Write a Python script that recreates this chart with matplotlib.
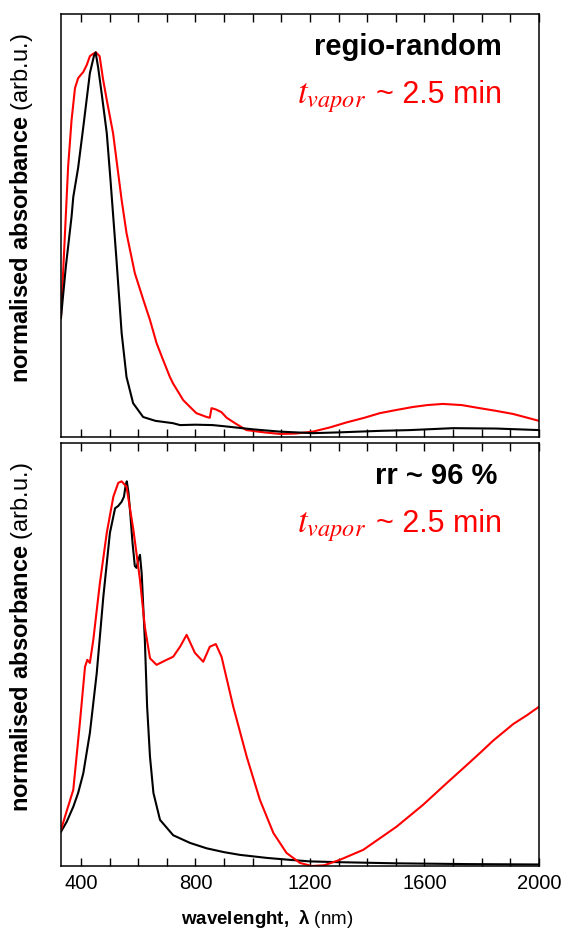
import matplotlib
matplotlib.use("Agg")
import matplotlib.pyplot as plt

plt.rcParams['font.family'] = ['Liberation Sans', 'DejaVu Sans']
plt.rcParams['mathtext.fontset'] = 'custom'
plt.rcParams['mathtext.rm'] = 'Liberation Sans'
plt.rcParams['mathtext.bf'] = 'Liberation Sans:bold'

# regio-random film, top panel
top_wl_black = [330, 347, 367, 373, 390, 408, 431, 445, 451, 460, 472, 490, 503, 524, 542, 559,
                582, 617, 660, 721, 746, 800, 860, 900, 1000, 1095, 1210, 1300, 1444, 1550,
                1700, 1850, 2000]
top_black = [0.31, 0.443, 0.573, 0.624, 0.70, 0.806, 0.946, 0.99, 1.0, 0.96, 0.894, 0.79, 0.668,
             0.46, 0.27, 0.156, 0.088, 0.052, 0.042, 0.036, 0.031, 0.032, 0.031, 0.028, 0.02,
             0.014, 0.01, 0.012, 0.016, 0.018, 0.023, 0.022, 0.018]

top_wl_red = [330, 344, 355, 367, 379, 390, 408, 420, 431, 440, 452, 465, 477, 490, 512, 524,
              542, 559, 588, 618, 641, 664, 687, 710, 721, 757, 781, 803, 839, 850, 856, 870,
              890, 909, 940, 978, 1040, 1095, 1150, 1210, 1270, 1328, 1390, 1444, 1500, 1559,
              1610, 1664, 1730, 1793, 1850, 1909, 1960, 2000]
top_red = [0.31, 0.53, 0.703, 0.824, 0.907, 0.933, 0.949, 0.967, 0.99, 0.995, 1.0, 0.99, 0.93,
           0.876, 0.79, 0.72, 0.616, 0.53, 0.426, 0.356, 0.304, 0.244, 0.2, 0.157, 0.14, 0.096,
           0.078, 0.062, 0.052, 0.05, 0.075, 0.072, 0.065, 0.05, 0.035, 0.018, 0.012, 0.008,
           0.009, 0.014, 0.025, 0.038, 0.05, 0.062, 0.07, 0.078, 0.083, 0.086, 0.083, 0.075,
           0.068, 0.06, 0.05, 0.042]

# rr ~ 96 % film, bottom panel
bot_wl_black = [330, 350, 373, 390, 408, 431, 455, 478, 501, 519, 530, 542, 550, 556, 560, 566,
                573, 580, 588, 594, 600, 606, 612, 623, 631, 641, 653, 676, 722, 781, 839, 900,
                955, 1050, 1130, 1200, 1300, 1500, 1750, 2000]
bot_black = [0.089, 0.115, 0.154, 0.19, 0.241, 0.346, 0.502, 0.70, 0.866, 0.93, 0.936, 0.947,
             0.96, 0.99, 1.0, 0.97, 0.908, 0.84, 0.78, 0.775, 0.795, 0.809, 0.76, 0.588, 0.414,
             0.284, 0.19, 0.12, 0.08, 0.06, 0.046, 0.036, 0.029, 0.021, 0.016, 0.012, 0.01,
             0.007, 0.005, 0.004]

bot_wl_red = [330, 348, 373, 396, 414, 422, 431, 443, 466, 490, 513, 530, 542, 559, 583, 606,
              623, 641, 664, 699, 722, 746, 769, 798, 827, 850, 871, 891, 932, 979, 1025, 1072,
              1118, 1165, 1206, 1250, 1304, 1386, 1502, 1595, 1677, 1747, 1800, 1840, 1910,
              1960, 2000]
bot_red = [0.094, 0.138, 0.198, 0.372, 0.518, 0.536, 0.528, 0.588, 0.736, 0.866, 0.96, 0.996,
           1.0, 0.986, 0.874, 0.744, 0.622, 0.54, 0.523, 0.536, 0.544, 0.57, 0.601, 0.554,
           0.531, 0.57, 0.577, 0.544, 0.414, 0.284, 0.172, 0.086, 0.034, 0.008, 0.0, 0.002,
           0.016, 0.042, 0.102, 0.159, 0.215, 0.262, 0.298, 0.326, 0.369, 0.393, 0.414]

titles = ["regio-random", "rr ~ 96 %"]
title_x = [0.923, 0.912]
xticks = [400, 800, 1200, 1600, 2000]

fig = plt.figure(figsize=(5.63, 9.3), dpi=100)
ax1 = fig.add_axes([0.1083, 0.5301, 0.849, 0.455])
ax2 = fig.add_axes([0.1083, 0.0688, 0.849, 0.455])

ax1.plot(top_wl_red, top_red, color='#ff0000', lw=1.5)
ax1.plot(top_wl_black, top_black, color='black', lw=1.5)
ax2.plot(bot_wl_black, bot_black, color='black', lw=1.5)
ax2.plot(bot_wl_red, bot_red, color='#ff0000', lw=1.5)

for ax, title, tx in zip([ax1, ax2], titles, title_x):
    ax.set_xlim(330, 2000)
    ax.set_ylim(0, 1.1)
    ax.set_xticks(xticks)
    ax.set_xticks(range(400, 2001, 100), minor=True)
    ax.set_yticks([])
    ax.tick_params(which='both', direction='in', top=True, bottom=True, length=6, width=1)
    ax.tick_params(labelsize=14.5, pad=6)
    for s in ax.spines.values():
        s.set_linewidth(1.1)
    ax.set_ylabel(r'$\mathbf{normalised\ absorbance}$ (arb.u.)', fontsize=17)
    ax.yaxis.set_label_coords(-0.055, 0.54)
    ax.text(tx, 0.902, title, transform=ax.transAxes, ha='right', va='baseline',
            fontsize=21, fontweight='bold')
    ax.text(0.923, 0.79, '~ 2.5 min', transform=ax.transAxes, ha='right',
            va='baseline', fontsize=22, color='#ff0000')
    ax.text(0.638, 0.79, r'$t_{vapor}$', transform=ax.transAxes, ha='right',
            va='baseline', fontsize=25, color='#ff0000', math_fontfamily='stix')

ax1.tick_params(labelbottom=False)
ax2.set_xlabel(r'$\mathbf{wavelenght,\ λ}$ (nm)', fontsize=13.5)
ax2.xaxis.set_label_coords(0.431, -0.1)

plt.savefig('out.png', dpi=100)
